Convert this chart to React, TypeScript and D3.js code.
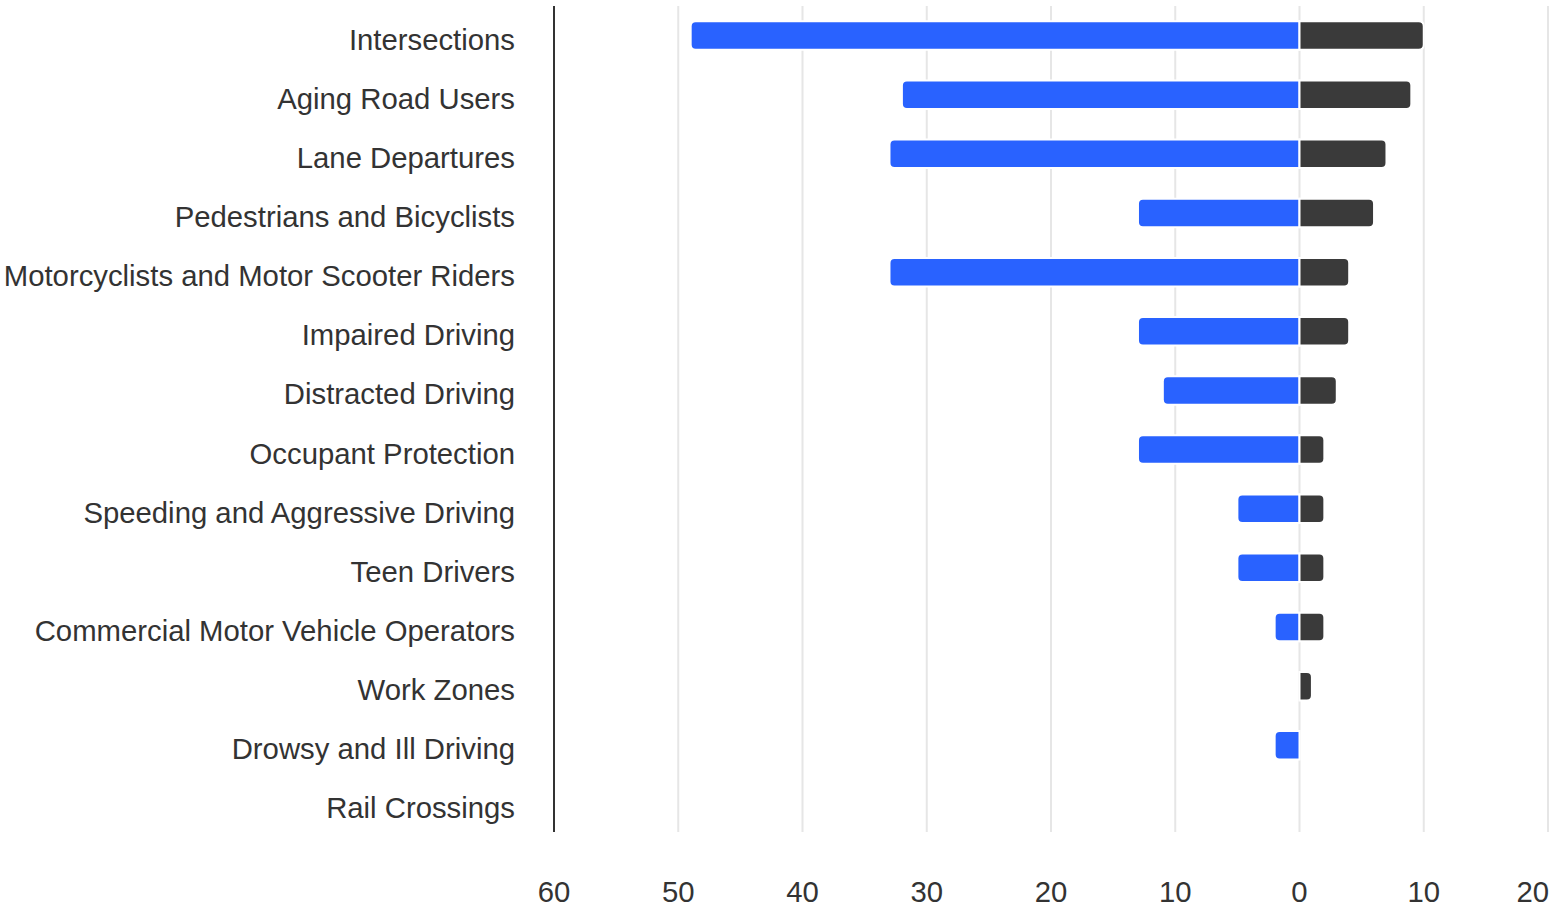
import React from "react";
import * as d3 from "d3";

const categories = [
  "Intersections",
  "Aging Road Users",
  "Lane Departures",
  "Pedestrians and Bicyclists",
  "Motorcyclists and Motor Scooter Riders",
  "Impaired Driving",
  "Distracted Driving",
  "Occupant Protection",
  "Speeding and Aggressive Driving",
  "Teen Drivers",
  "Commercial Motor Vehicle Operators",
  "Work Zones",
  "Drowsy and Ill Driving",
  "Rail Crossings",
];
const leftValues = [49, 32, 33, 13, 33, 13, 11, 13, 5, 5, 2, 0, 2, 0];
const rightValues = [10, 9, 7, 6, 4, 4, 3, 2, 2, 2, 2, 1, 0, 0];
const tickValues = [-60, -50, -40, -30, -20, -10, 0, 10, 20];
const tickLabels = ["60", "50", "40", "30", "20", "10", "0", "10", "20"];

const W = 1553;
const H = 907;
const FONT = "'Liberation Sans', Arial, sans-serif";
const BLUE = "#2962ff";
const DARK = "#3a3a3a";
const TEXT = "#333333";

function barPath(x0: number, x1: number, yTop: number, h: number, roundRight: boolean): string {
  const w = Math.abs(x1 - x0);
  const r = Math.min(5, w, h / 2);
  const yB = yTop + h;
  const l = Math.min(x0, x1), rt = Math.max(x0, x1);
  if (roundRight) {
    return `M${l},${yTop}H${rt - r}Q${rt},${yTop} ${rt},${yTop + r}V${yB - r}Q${rt},${yB} ${rt - r},${yB}H${l}Z`;
  }
  return `M${rt},${yTop}H${l + r}Q${l},${yTop} ${l},${yTop + r}V${yB - r}Q${l},${yB} ${l + r},${yB}H${rt}Z`;
}

export default function App() {
  const x = d3.scaleLinear().domain([-60, 20]).range([554, 1548]);
  const y = d3.scaleBand<string>().domain(categories).range([6, 834]).paddingInner(0).paddingOuter(0);
  const bh = 28.5;

  return (
    <svg width={W} height={H} style={{ position: "absolute", left: 0, top: 0, background: "#fff" }}>
      <g>
        {tickValues.map((t) =>
          t === -60 ? null : (
            <line key={"g" + t} x1={x(t)} x2={x(t)} y1={6} y2={832} stroke="#e6e6e6" strokeWidth={2} />
          )
        )}
      </g>
      <g>
        {categories.map((c, i) => {
          const cy = (y(c) as number) + y.bandwidth() / 2;
          const top = cy - bh / 2;
          return (
            <g key={c}>
              {leftValues[i] > 0 && (
                <path d={barPath(x(-leftValues[i]), x(0), top, bh, false)} fill={BLUE} stroke="#fff" strokeWidth={2} />
              )}
              {rightValues[i] > 0 && (
                <path d={barPath(x(0), x(rightValues[i]), top, bh, true)} fill={DARK} stroke="#fff" strokeWidth={2} />
              )}
            </g>
          );
        })}
      </g>
      <line x1={554} x2={554} y1={6} y2={832} stroke={TEXT} strokeWidth={2} />
      <g fontFamily={FONT} fontSize={29.3} fill={TEXT}>
        {categories.map((c) => {
          const cy = (y(c) as number) + y.bandwidth() / 2;
          return (
            <text key={"l" + c} x={515} y={cy + 14} textAnchor="end">
              {c}
            </text>
          );
        })}
        {tickValues.map((t, i) => {
          const last = i === tickValues.length - 1;
          return (
            <text key={"t" + t + i} x={last ? 1549 : x(t)} y={902} textAnchor={last ? "end" : "middle"}>
              {tickLabels[i]}
            </text>
          );
        })}
      </g>
    </svg>
  );
}
